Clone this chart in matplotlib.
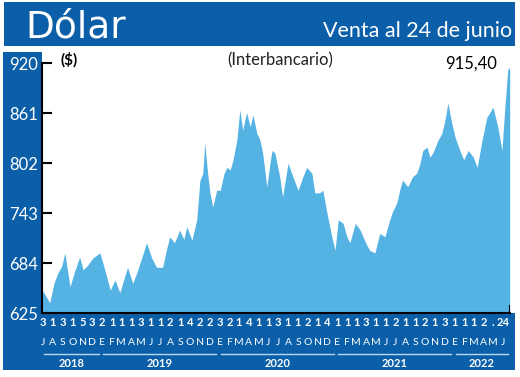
#Dolar interbancario - venta al 24 de junio

import pandas as pd                                                   #fechas
import matplotlib.pyplot as plt                                       #grafico
from matplotlib.patches import Rectangle
from matplotlib.transforms import blended_transform_factory

# data
dates = ['2018-07-02', '2018-07-13', '2018-07-25', '2018-08-07', '2018-08-19', '2018-08-31',
         '2018-09-10', '2018-09-26', '2018-10-11', '2018-10-26', '2018-11-06', '2018-11-21',
         '2018-12-06', '2018-12-28', '2019-01-13', '2019-01-29', '2019-02-13', '2019-02-28',
         '2019-03-15', '2019-03-24', '2019-04-09', '2019-04-21', '2019-05-07', '2019-05-22',
         '2019-06-07', '2019-06-22', '2019-07-11', '2019-07-23', '2019-08-02', '2019-08-17',
         '2019-09-02', '2019-09-15', '2019-09-24', '2019-10-10', '2019-10-25', '2019-11-04',
         '2019-11-13', '2019-11-19', '2019-11-28', '2019-12-05', '2019-12-14', '2019-12-26',
         '2020-01-06', '2020-01-18', '2020-01-27', '2020-02-06', '2020-02-15', '2020-02-27',
         '2020-03-07', '2020-03-16', '2020-03-28', '2020-04-08', '2020-04-17', '2020-04-29',
         '2020-05-08', '2020-05-17', '2020-05-30', '2020-06-08', '2020-06-15', '2020-06-24',
         '2020-07-09', '2020-07-18', '2020-08-04', '2020-08-19', '2020-09-04', '2020-09-19',
         '2020-10-01', '2020-10-17', '2020-10-26', '2020-11-11', '2020-11-20', '2020-12-03',
         '2020-12-18', '2020-12-28', '2021-01-07', '2021-01-22', '2021-02-03', '2021-02-12',
         '2021-03-01', '2021-03-16', '2021-03-25', '2021-04-06', '2021-04-15', '2021-05-01',
         '2021-05-16', '2021-06-01', '2021-06-16', '2021-06-25', '2021-07-08', '2021-07-17',
         '2021-07-26', '2021-08-11', '2021-08-26', '2021-09-08', '2021-09-17', '2021-09-27',
         '2021-10-10', '2021-10-19', '2021-10-28', '2021-11-13', '2021-11-25', '2021-12-05',
         '2021-12-14', '2021-12-26', '2022-01-05', '2022-01-20', '2022-02-01', '2022-02-15',
         '2022-03-03', '2022-03-15', '2022-03-30', '2022-04-14', '2022-05-03', '2022-05-18',
         '2022-05-31', '2022-06-09', '2022-06-18', '2022-06-24']
values = [652, 645, 637, 660, 672, 680,
          696, 656, 675, 691, 676, 682,
          690, 696, 675, 652, 664, 649,
          668, 679, 660, 672, 690, 708,
          690, 679, 679, 700, 715, 708,
          723, 712, 727, 711, 735, 782,
          790, 826, 790, 767, 750, 770,
          770, 790, 797, 794, 806, 830,
          865, 841, 862, 845, 859, 837,
          830, 814, 774, 800, 817, 814,
          786, 762, 802, 786, 770, 786,
          797, 790, 767, 767, 770, 743,
          715, 699, 735, 731, 715, 708,
          731, 723, 715, 705, 699, 696,
          719, 715, 735, 745, 755, 770,
          782, 774, 786, 790, 800, 817,
          821, 809, 814, 829, 837, 853,
          873, 849, 833, 817, 806, 817,
          809, 797, 829, 856, 868, 845,
          817, 868, 912, 915.40]
yticks = [625, 684, 743, 802, 861, 920]
day_labels = ['3', '1', '3', '1', '5', '3', '2', '1', '1', '1', '3', '1', '1', '2', '1', '4',
              '2', '2', '3', '2', '1', '4', '1', '1', '3', '1', '1', '2', '1', '4', '1', '1',
              '1', '3', '1', '1', '2', '1', '1', '2', '1', '3', '1', '1', '1', '2', '.', '24']
month_initials = 'EFMAMJJASOND'
years = [2018, 2019, 2020, 2021, 2022]

blue = '#0b5fa8'
light = '#55b3e3'
font = ['Liberation Sans Narrow', 'Lato', 'DejaVu Sans']

d = pd.to_datetime(dates)
W, H = 520, 377

fig = plt.figure(figsize=(W / 100, H / 100), dpi=100)
fig.patch.set_facecolor('white')

def band(x0, y0, x1, y1):                                             #rectangle in pixels (top-left origin)
    fig.add_artist(Rectangle((x0 / W, 1 - y1 / H), (x1 - x0) / W, (y1 - y0) / H,
                             transform=fig.transFigure, color=blue, lw=0, zorder=-1))

band(4, 2, 515, 46)                                                   #header
band(3, 52, 42, 314)                                                  #left column
band(3, 313, 515, 370)                                                #bottom

fig.text(25 / W, 1 - 38 / H, 'Dólar', color='white', fontsize=27, family='DejaVu Sans')
fig.text(512 / W, 1 - 37 / H, 'Venta al 24 de junio', color='white', fontsize=15.5,
         family=font, ha='right')

ax = fig.add_axes([42 / W, 1 - 313 / H, 468 / W, 265 / H])
ax.fill_between(d, values, 625, color=light, lw=0)
ax.set_xlim(pd.Timestamp('2018-07-01'), pd.Timestamp('2022-06-25'))
ax.set_ylim(625, 938)

for s in ['top', 'right']:
    ax.spines[s].set_visible(False)
ax.spines['left'].set_bounds(625, 920)
ax.spines['left'].set_linewidth(1.5)
ax.spines['bottom'].set_linewidth(1.5)
ax.axvline(d[-1], ymax=0.025, color='black', lw=1.5)

ax.set_yticks(yticks)
ax.set_yticklabels([str(v) for v in yticks], family=font)
ax.tick_params(axis='y', direction='in', length=7, width=1.5, labelcolor='white',
               labelsize=12, pad=3)
ax.tick_params(axis='x', length=0, labelbottom=False)

ax.text(0.04, 0.955, '($)', transform=ax.transAxes, fontsize=11, fontweight='bold',
        family=font, va='center')
ax.text(0.51, 0.955, '(Interbancario)', transform=ax.transAxes, fontsize=12,
        color='#222222', family='Lato', va='center', ha='center')
ax.text(0.972, 0.94, f'{values[-1]:.2f}'.replace('.', ','), transform=ax.transAxes,
        fontsize=12, family=font, va='center', ha='right')

# bottom axis labels: day, month, year
tr = blended_transform_factory(ax.transData, ax.transAxes)
months = pd.date_range('2018-07-01', '2022-06-01', freq='MS')
for i, m in enumerate(months):
    pos = m + pd.Timedelta(days=3)
    lab = day_labels[i] if i < len(day_labels) else ''
    ax.text(pos, -0.034, lab, transform=tr, color='white', fontsize=8, fontweight='bold',
            family=font, ha='center', va='center', clip_on=False)
    ax.text(pos, -0.113, month_initials[m.month - 1], transform=tr, color='white',
            fontsize=7.5, family=font, ha='center', va='center', clip_on=False)

for yr in years:
    start = max(pd.Timestamp(f'{yr}-01-01'), pd.Timestamp('2018-07-01'))
    end = min(pd.Timestamp(f'{yr}-12-31'), d[-1])
    ax.plot([start + pd.Timedelta(days=6), end - pd.Timedelta(days=6)], [-0.155, -0.155],
            transform=tr, color='#b9d7f0', lw=1, clip_on=False)
    mid = start + (end - start) / 2
    ax.text(mid, -0.19, str(yr), transform=tr, color='white', fontsize=8, fontweight='bold',
            family=font, ha='center', va='center', clip_on=False)

plt.savefig('out.png', dpi=100)
